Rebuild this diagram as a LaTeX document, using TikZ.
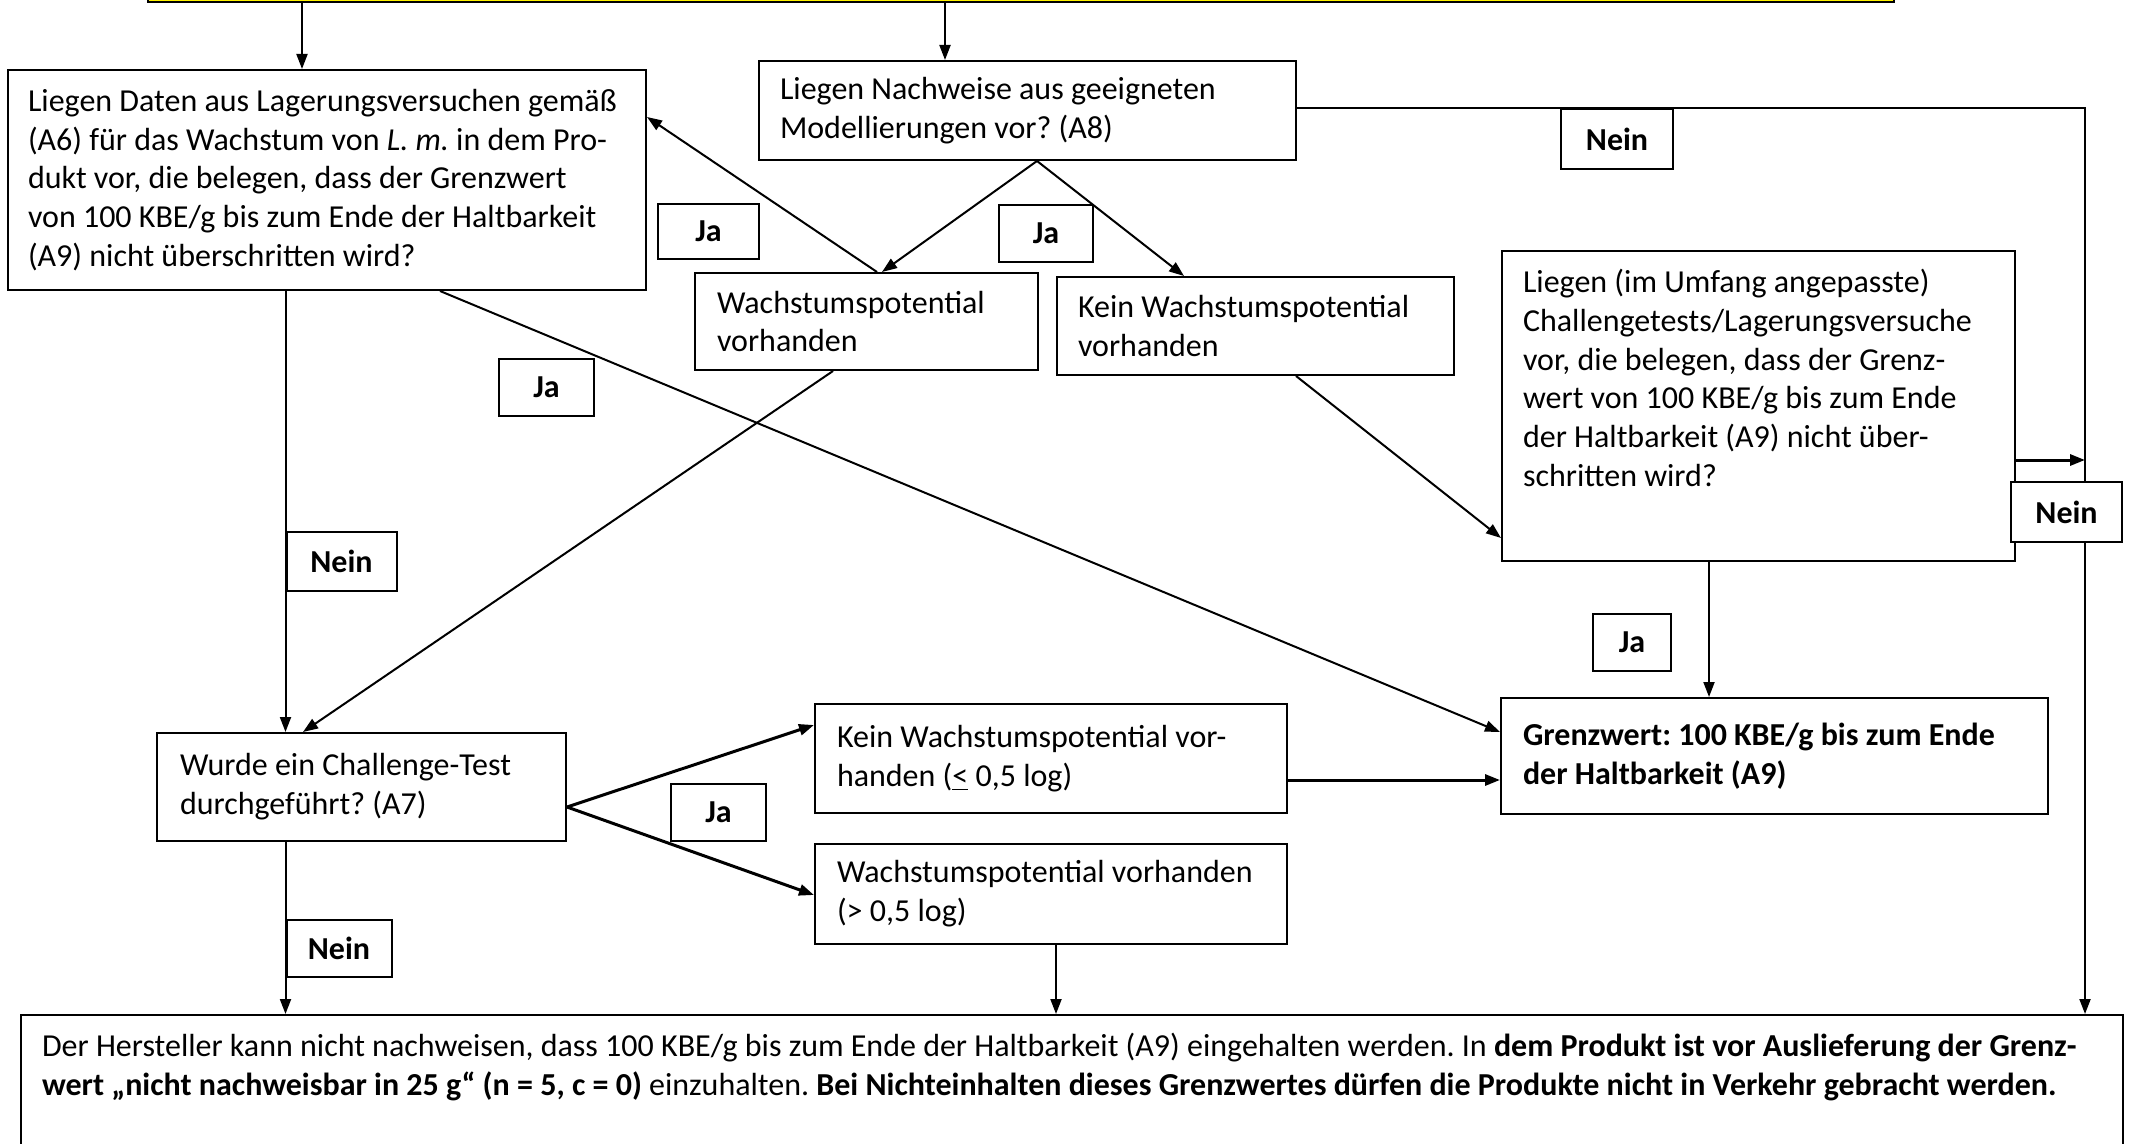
\documentclass[tikz,border=0pt]{standalone}
\usepackage{fontspec}
\setmainfont{Carlito}
\usetikzlibrary{arrows.meta}
\newcommand\fs{\fontsize{16.0}{19.4}\selectfont\frenchspacing}
\begin{document}
\begin{tikzpicture}[x=0.5pt,y=-0.5pt,
  every node/.style={font=\fs},
  box/.style={draw, line width=1pt, anchor=north west, align=flush left, inner sep=0pt},
  lbl/.style={draw, line width=1pt, anchor=north west, inner sep=0pt, font=\fs\bfseries, fill=white},
  arr/.style={line width=1pt, -{Triangle[length=7.5pt,width=5.5pt]}},
  tarr/.style={arr, line width=1.5pt},
  ln/.style={line width=1pt}]
\useasboundingbox (0,0) rectangle (2134,1144);
\clip (0,0) rectangle (2134,1144);
\fill[white] (0,0) rectangle (2134,1144);
% helper coordinates
\coordinate (X302) at (302,0);
\coordinate (X945) at (945,0);
\coordinate (X1037) at (1037,0);
\coordinate (X882) at (882,0);
\coordinate (X1184) at (1184,0);
\coordinate (X877) at (877,0);
\coordinate (Y117) at (0,117);
\coordinate (X285) at (285.5,0);
\coordinate (X440) at (440,0);
\coordinate (Y732) at (0,732);
\coordinate (X833) at (833,0);
\coordinate (X303) at (303,0);
\coordinate (X1296) at (1296,0);
\coordinate (Y538) at (0,538);
\coordinate (X1709) at (1709,0);
\coordinate (Y460) at (0,460);
\coordinate (X2085) at (2085,0);
\coordinate (Y108) at (0,108);
\coordinate (Y807) at (0,807);
\coordinate (Y725) at (0,725);
\coordinate (Y895) at (0,895);
\coordinate (Y780) at (0,780);
\coordinate (X1056) at (1056,0);

% top (yellow) box, cut off by the page edge
\node[draw, fill=yellow, line width=1pt, anchor=south west, minimum width=873pt, minimum height=60pt, inner sep=0pt] (top) at (147,3) {};

% boxes
\node[box, minimum width=319pt, minimum height=110pt, text width=299pt] (a6) at (7,69)
 {Liegen Daten aus Lagerungsversuchen gemäß\\(A6) für das Wachstum von \textit{L. m.} in dem Pro-\\dukt vor, die belegen, dass der Grenzwert\\von 100 KBE/g bis zum Ende der Haltbarkeit\\(A9) nicht überschritten wird?};
\node[box, minimum width=268.5pt, minimum height=49.5pt, text width=247.5pt] (a8) at (758,60)
 {Liegen Nachweise aus geeigneten\\Modellierungen vor? (A8)};
\node[box, minimum width=171.5pt, minimum height=48.5pt, text width=149.5pt] (w1) at (694,272)
 {Wachstumspotential\\vorhanden};
\node[box, minimum width=198.5pt, minimum height=49pt, text width=177.5pt] (kw1) at (1056,276)
 {Kein Wachstumspotential\\vorhanden};
\node[box, minimum width=256.5pt] (ct) at (1501,250)
 {\parbox[c][155pt][t]{235.5pt}{\raggedright\vspace*{9pt}Liegen (im Umfang angepasste)\\Challengetests/Lagerungsversuche\\vor, die belegen, dass der Grenz-\\wert von 100 KBE/g bis zum Ende\\der Haltbarkeit (A9) nicht über-\\schritten wird?}};
\node[box, minimum width=204.5pt, minimum height=54pt, text width=181.5pt] (ctest) at (156,732)
 {Wurde ein Challenge-Test\\durchgeführt? (A7)};
\node[box, minimum width=236pt, minimum height=54.5pt, text width=214pt] (kw2) at (814,703)
 {Kein Wachstumspotential vor-\\handen (\underline{<} 0,5 log)};
\node[box, minimum width=236pt, minimum height=50pt, text width=214pt] (w2) at (814,843)
 {Wachstumspotential vorhanden\\(> 0,5 log)};
\node[box, minimum width=273.5pt, minimum height=58pt, text width=251.5pt, font=\fs\bfseries] (gw) at (1500,697)
 {Grenzwert: 100 KBE/g bis zum Ende\\der Haltbarkeit (A9)};
\node[box, minimum width=1051pt] (bot) at (20,1014)
 {\parbox[c][75pt][t]{1030pt}{\raggedright\vspace*{9pt}Der Hersteller kann nicht nachweisen, dass 100 KBE/g bis zum Ende der Haltbarkeit (A9) eingehalten werden. In \textbf{dem Produkt ist vor Auslieferung der Grenz-}\\\textbf{wert „nicht nachweisbar in 25 g“ (n = 5, c = 0)} einzuhalten. \textbf{Bei Nichteinhalten dieses Grenzwertes dürfen die Produkte nicht in Verkehr gebracht werden.}}};

% connectors
\draw[arr] (top.south -| X302) -- (a6.north -| X302);
\draw[arr] (top.south -| X945) -- (a8.north -| X945);
\draw[arr] (a8.south -| X1037) -- (w1.north -| X882);
\draw[arr] (a8.south -| X1037) -- (kw1.north -| X1184);
\draw[arr] (w1.north -| X877) -- (a6.east |- Y117);
\draw[arr] (a6.south -| X285) -- (ctest.north -| X285);
\draw[arr] (a6.south -| X440) -- (gw.west |- Y732);
\draw[arr] (w1.south -| X833) -- (ctest.north -| X303);
\draw[arr] (kw1.south -| X1296) -- (ct.west |- Y538);
\draw[arr] (ct.south -| X1709) -- (gw.north -| X1709);
\draw[tarr] (ct.east |- Y460) -- (X2085 |- Y460);
\draw[arr] (a8.east |- Y108) -| (bot.north -| X2085);
\draw[tarr] (ctest.east |- Y807) -- (kw2.west |- Y725);
\draw[tarr] (ctest.east |- Y807) -- (w2.west |- Y895);
\draw[tarr] (kw2.east |- Y780) -- (gw.west |- Y780);
\draw[arr] (w2.south -| X1056) -- (bot.north -| X1056);
\draw[arr] (ctest.south -| X285) -- (bot.north -| X285);

% labels
\node[lbl, minimum width=50.5pt, minimum height=27.5pt] (ja1) at (657,203) {Ja};
\node[lbl, minimum width=47pt, minimum height=28.5pt] (ja2) at (998,204) {Ja};
\node[lbl, minimum width=47.5pt, minimum height=28.5pt] (ja3) at (498,358) {Ja};
\node[lbl, minimum width=55pt, minimum height=29.5pt] (nein1) at (285.5,531) {Nein};
\node[lbl, minimum width=56pt, minimum height=30pt] (nein2) at (1560,108) {Nein};
\node[lbl, minimum width=55.5pt, minimum height=30pt] (nein3) at (2010,481) {Nein};
\node[lbl, minimum width=39pt, minimum height=28.5pt] (ja4) at (1592,613) {Ja};
\node[lbl, minimum width=47.5pt, minimum height=28.5pt] (ja5) at (670,783) {Ja};
\node[lbl, minimum width=52.5pt, minimum height=28.5pt] (nein4) at (285.5,919) {Nein};
\end{tikzpicture}
\end{document}
